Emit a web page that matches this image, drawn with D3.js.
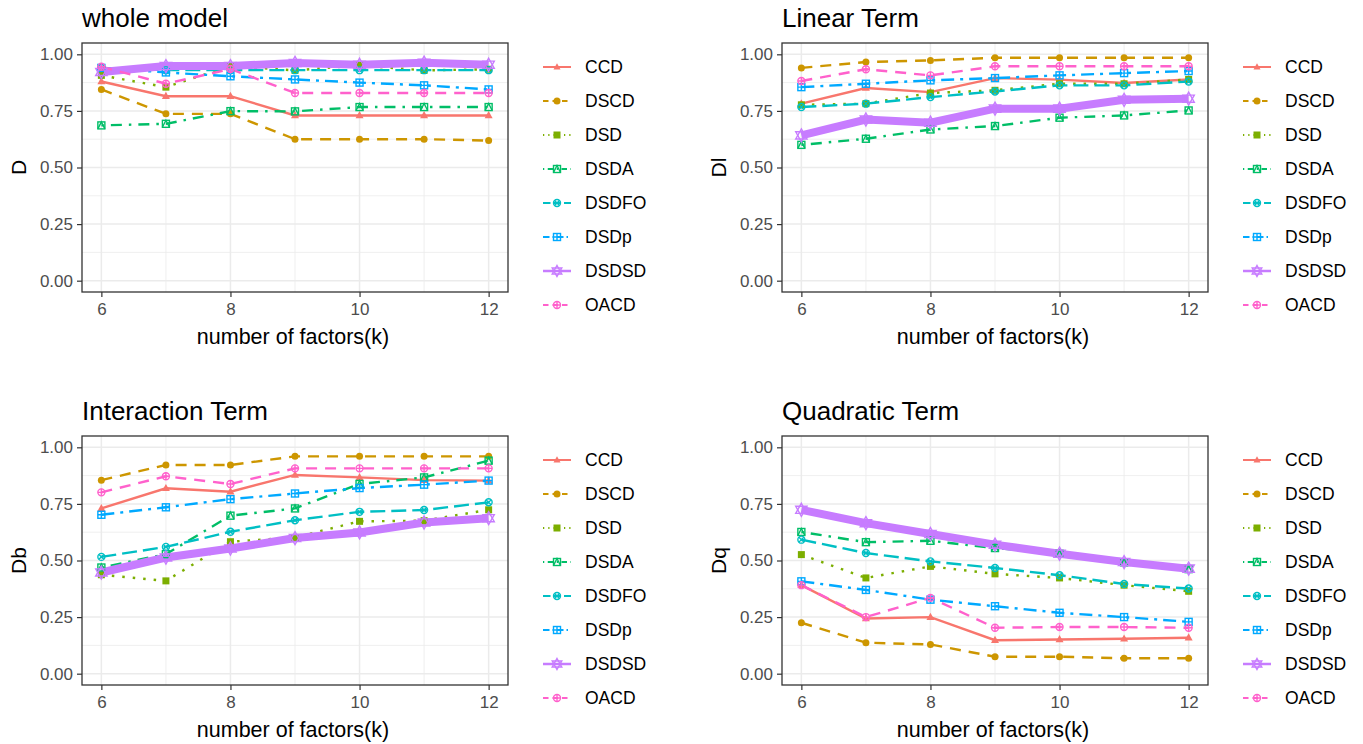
<!DOCTYPE html>
<html>
<head>
<meta charset="utf-8">
<script src="https://cdn.jsdelivr.net/npm/d3@7"></script>
<style>
  body { margin: 0; background: #fff; }
  text { font-family: "Liberation Sans", Arial, sans-serif; }
</style>
</head>
<body>
<svg id="chart" width="1363" height="744"></svg>
<script>
const ks = [6, 7, 8, 9, 10, 11, 12]
const designs = ["CCD", "DSCD", "DSD", "DSDA", "DSDFO", "DSDp", "DSDSD", "OACD"]
const xTicks = [6, 8, 10, 12]
const yTicks = [0, 0.25, 0.5, 0.75, 1]
const titles = ["whole model", "Linear Term", "Interaction Term", "Quadratic Term"]
const yLabels = ["D", "Dl", "Db", "Dq"]
const xLabel = "number of factors(k)"

// one row per design, in the order of `designs`
const wholeModel = [
    [0.88, 0.815, 0.815, 0.73, 0.73, 0.73, 0.73],
    [0.845, 0.737, 0.737, 0.625, 0.625, 0.625, 0.619],
    [0.907, 0.855, 0.948, 0.929, 0.951, 0.929, 0.934],
    [0.686, 0.693, 0.749, 0.748, 0.767, 0.767, 0.767],
    [0.94, 0.93, 0.93, 0.93, 0.93, 0.93, 0.93],
    [0.94, 0.92, 0.903, 0.889, 0.875, 0.863, 0.845],
    [0.922, 0.948, 0.948, 0.962, 0.954, 0.963, 0.954],
    [0.945, 0.87, 0.935, 0.829, 0.829, 0.829, 0.829]
]
const linearTerm = [
    [0.782, 0.851, 0.833, 0.895, 0.888, 0.873, 0.889],
    [0.94, 0.966, 0.973, 0.985, 0.985, 0.985, 0.985],
    [0.777, 0.782, 0.829, 0.841, 0.87, 0.87, 0.889],
    [0.60, 0.627, 0.668, 0.683, 0.72, 0.73, 0.752],
    [0.767, 0.782, 0.811, 0.836, 0.863, 0.863, 0.88],
    [0.855, 0.87, 0.885, 0.895, 0.907, 0.917, 0.926],
    [0.642, 0.712, 0.698, 0.76, 0.76, 0.799, 0.804],
    [0.882, 0.934, 0.907, 0.947, 0.947, 0.947, 0.947]
]
const interactionTerm = [
    [0.73, 0.819, 0.804, 0.878, 0.867, 0.855, 0.853],
    [0.855, 0.922, 0.922, 0.96, 0.96, 0.96, 0.96],
    [0.437, 0.41, 0.583, 0.602, 0.673, 0.676, 0.724],
    [0.469, 0.528, 0.698, 0.73, 0.838, 0.867, 0.941],
    [0.516, 0.56, 0.627, 0.678, 0.715, 0.723, 0.757],
    [0.702, 0.735, 0.771, 0.796, 0.82, 0.835, 0.853],
    [0.447, 0.513, 0.553, 0.599, 0.624, 0.668, 0.687],
    [0.801, 0.872, 0.838, 0.907, 0.907, 0.907, 0.907]
]
const quadraticTerm = [
    [0.391, 0.244, 0.25, 0.148, 0.151, 0.154, 0.159],
    [0.225, 0.137, 0.129, 0.075, 0.075, 0.068, 0.068],
    [0.526, 0.423, 0.474, 0.441, 0.423, 0.391, 0.364],
    [0.626, 0.581, 0.587, 0.555, 0.53, 0.492, 0.462],
    [0.592, 0.533, 0.496, 0.467, 0.435, 0.396, 0.376],
    [0.408, 0.37, 0.327, 0.298, 0.269, 0.25, 0.229],
    [0.724, 0.665, 0.617, 0.57, 0.53, 0.493, 0.464],
    [0.391, 0.25, 0.335, 0.203, 0.206, 0.206, 0.203]
]
const panelData = [wholeModel, linearTerm, interactionTerm, quadraticTerm]

// looks of each design (ggplot hue palette)
const colors = ["#F8766D", "#CD9600", "#7CAE00", "#00BE67", "#00BFC4", "#00A9FF", "#C77CFF", "#FF61CC"]
const dashes = [null, "11,8", "2.5,8", "2.5,7,11,7", "15,6", "13,6,3,6", null, "11,8"]
const shapes = ["triangle", "circle", "square", "squareTri", "circleX", "squarePlus", "star", "circlePlus"]
const lineWidths = [2.4, 2.4, 2.4, 2.4, 2.4, 2.4, 8, 2.4]
const markerSize = [4, 3.5, 3.5, 3.5, 3.5, 3.5, 6.5, 3.5]

const svg = d3.select("#chart")

// small ggplot-like point shapes
function marker(g, shape, color, s) {
    let m = g.append("g")
    let open = { fill: "none", stroke: color, "stroke-width": 1.4 }
    function apply(sel, attrs) { for (let a in attrs) sel.attr(a, attrs[a]); return sel }
    if (shape == "triangle") {
        m.append("path").attr("d", `M0,${-s * 1.1}L${s},${s * 0.7}L${-s},${s * 0.7}Z`).attr("fill", color)
    } else if (shape == "circle") {
        m.append("circle").attr("r", s).attr("fill", color)
    } else if (shape == "square") {
        m.append("rect").attr("x", -s).attr("y", -s).attr("width", 2 * s).attr("height", 2 * s).attr("fill", color)
    } else if (shape == "squareTri") {
        apply(m.append("rect").attr("x", -s).attr("y", -s).attr("width", 2 * s).attr("height", 2 * s), open)
        apply(m.append("path").attr("d", `M${-s},${s}L0,${-s}L${s},${s}`), open)
    } else if (shape == "circleX") {
        let d = s * 0.7
        apply(m.append("circle").attr("r", s), open)
        apply(m.append("path").attr("d", `M${-d},${-d}L${d},${d}M${d},${-d}L${-d},${d}`), open)
    } else if (shape == "squarePlus") {
        apply(m.append("rect").attr("x", -s).attr("y", -s).attr("width", 2 * s).attr("height", 2 * s), open)
        apply(m.append("path").attr("d", `M0,${-s}V${s}M${-s},0H${s}`), open)
    } else if (shape == "star") {
        let h = s * 0.55
        apply(m.append("path").attr("d", `M0,${-s}L${s * 0.87},${h}L${-s * 0.87},${h}Z`), open)
        apply(m.append("path").attr("d", `M0,${s}L${s * 0.87},${-h}L${-s * 0.87},${-h}Z`), open)
    } else if (shape == "circlePlus") {
        apply(m.append("circle").attr("r", s), open)
        apply(m.append("path").attr("d", `M0,${-s}V${s}M${-s},0H${s}`), open)
    }
    return m
}

function drawPanel(idx, left, top) {
    let width = 426, height = 249
    let right = left + width, bottom = top + height
    let data = panelData[idx]

    let xScale = d3.scaleLinear().domain([5.7, 12.3]).range([left, right])
    let yScale = d3.scaleLinear().domain([-0.05, 1.05]).range([bottom, top])

    let g = svg.append("g")

    // grid: minor then major
    let xMinor = [7, 9, 11], yMinor = [0.125, 0.375, 0.625, 0.875]
    g.selectAll(".xminor").data(xMinor).enter().append("line")
        .attr("x1", d => xScale(d)).attr("x2", d => xScale(d)).attr("y1", top).attr("y2", bottom)
        .attr("stroke", "#EBEBEB").attr("stroke-width", 0.8)
    g.selectAll(".yminor").data(yMinor).enter().append("line")
        .attr("x1", left).attr("x2", right).attr("y1", d => yScale(d)).attr("y2", d => yScale(d))
        .attr("stroke", "#EBEBEB").attr("stroke-width", 0.8)
    g.selectAll(".xmajor").data(xTicks).enter().append("line")
        .attr("x1", d => xScale(d)).attr("x2", d => xScale(d)).attr("y1", top).attr("y2", bottom)
        .attr("stroke", "#EBEBEB").attr("stroke-width", 1.5)
    g.selectAll(".ymajor").data(yTicks).enter().append("line")
        .attr("x1", left).attr("x2", right).attr("y1", d => yScale(d)).attr("y2", d => yScale(d))
        .attr("stroke", "#EBEBEB").attr("stroke-width", 1.5)

    // lines
    let line = d3.line().x((d, i) => xScale(ks[i])).y(d => yScale(d))
    data.forEach(function(series, s) {
        g.append("path").datum(series)
            .attr("d", line)
            .attr("fill", "none")
            .attr("stroke", colors[s])
            .attr("stroke-width", lineWidths[s])
            .attr("stroke-dasharray", dashes[s])
    })
    // points
    data.forEach(function(series, s) {
        series.forEach(function(v, i) {
            marker(g, shapes[s], colors[s], markerSize[s])
                .attr("transform", `translate(${xScale(ks[i])},${yScale(v)})`)
        })
    })

    // border
    g.append("rect").attr("x", left).attr("y", top).attr("width", width).attr("height", height)
        .attr("fill", "none").attr("stroke", "#333333").attr("stroke-width", 1.3)

    // axes
    let xAxis = d3.axisBottom(xScale).tickValues(xTicks).tickSize(5).tickPadding(6).tickFormat(d3.format("d"))
    let yAxis = d3.axisLeft(yScale).tickValues(yTicks).tickSize(5).tickPadding(4).tickFormat(d3.format(".2f"))
    let xa = g.append("g").attr("transform", `translate(0,${bottom})`).call(xAxis)
    let ya = g.append("g").attr("transform", `translate(${left},0)`).call(yAxis)
    for (let a of [xa, ya]) {
        a.select(".domain").remove()
        a.selectAll(".tick line").attr("stroke", "#333333").attr("stroke-width", 1.2)
        a.selectAll(".tick text").attr("fill", "#4D4D4D").style("font-size", "17px")
            .style("font-family", '"Liberation Sans", Arial, sans-serif')
    }

    // titles
    g.append("text").attr("x", left).attr("y", top - 16)
        .style("font-size", "26px").attr("fill", "#000").text(titles[idx])
    g.append("text").attr("x", (left + right) / 2 - 2).attr("y", bottom + 52)
        .attr("text-anchor", "middle").style("font-size", "21.5px").attr("fill", "#000").text(xLabel)
    let ly = (top + bottom) / 2
    g.append("text").attr("x", left - 63).attr("y", ly)
        .attr("text-anchor", "middle").attr("dy", "0.35em")
        .attr("transform", `rotate(-90,${left - 63},${ly})`)
        .style("font-size", "21px").attr("fill", "#000").text(yLabels[idx])

    // legend
    let lx = right + 35, lyTop = top + 24
    designs.forEach(function(name, s) {
        let y = lyTop + s * 34
        g.append("line").attr("x1", lx).attr("x2", lx + 28).attr("y1", y).attr("y2", y)
            .attr("stroke", colors[s]).attr("stroke-width", s == 6 ? 2.5 : 2)
            .attr("stroke-dasharray", dashes[s] ? dashes[s].split(",").map(v => v * 0.5).join(",") : null)
        marker(g, shapes[s], colors[s], s == 6 ? 5.5 : 3.5).attr("transform", `translate(${lx + 14},${y})`)
        g.append("text").attr("x", right + 77).attr("y", y).attr("dy", "0.36em")
            .style("font-size", "17.5px").attr("fill", "#000").text(name)
    })
}

drawPanel(0, 82, 43)
drawPanel(1, 782, 43)
drawPanel(2, 82, 436)
drawPanel(3, 782, 436)
</script>
</body>
</html>
